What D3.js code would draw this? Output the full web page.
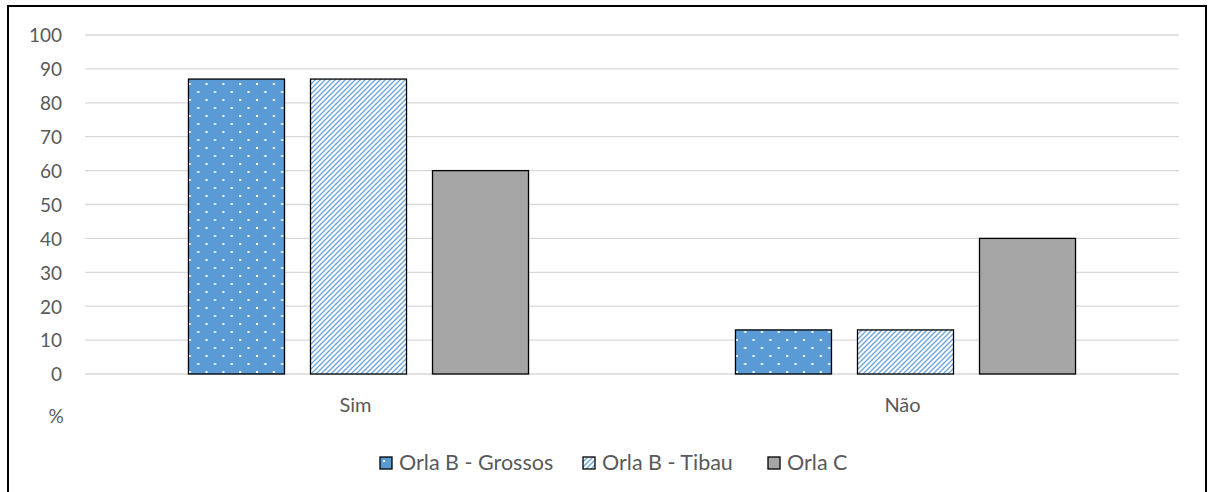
<!DOCTYPE html>
<html lang="pt">
<head>
    <meta charset="utf-8"/>
    <title>Sim / Não</title>
    <script src="https://d3js.org/d3.v7.min.js"></script>
    <style>
        body { margin: 0; background: #fff; }
        svg { display: block; }
        text { font-family: Lato, "Liberation Sans", sans-serif; fill: #595959; }
    </style>
</head>
<body>
<svg id="chart" width="1208" height="492"></svg>
<script>
    // datos
    const categorias = ["Sim", "Não"];
    const series = ["Orla B - Grossos", "Orla B - Tibau", "Orla C"];
    const grossos = [87, 13];
    const tibau = [87, 13];
    const orlaC = [60, 40];
    const ticksY = [0, 10, 20, 30, 40, 50, 60, 70, 80, 90, 100];

    const valores = [grossos, tibau, orlaC];

    const svg = d3.select("#chart");

    // patrones de relleno
    const defs = svg.append("defs");

    const dots = defs.append("pattern")
        .attr("id", "puntos")
        .attr("patternUnits", "userSpaceOnUse")
        .attr("width", 16.8).attr("height", 16);
    dots.append("rect").attr("width", 16.8).attr("height", 16).attr("fill", "#5B9BD5");
    dots.append("rect").attr("x", 3).attr("y", 3).attr("width", 2).attr("height", 2).attr("fill", "#fff");
    dots.append("rect").attr("x", 11.4).attr("y", 11).attr("width", 2).attr("height", 2).attr("fill", "#fff");

    const diag = defs.append("pattern")
        .attr("id", "diagonal")
        .attr("patternUnits", "userSpaceOnUse")
        .attr("width", 5).attr("height", 5);
    diag.append("rect").attr("width", 5).attr("height", 5).attr("fill", "#fff");
    diag.append("path")
        .attr("d", "M-1,1 L1,-1 M0,5 L5,0 M4,6 L6,4")
        .attr("stroke", "#6FA6DA")
        .attr("stroke-width", 1.4);

    const rellenos = ["url(#puntos)", "url(#diagonal)", "#A5A5A5"];

    // marco exterior
    svg.append("path")
        .attr("d", "M8,492 L8,6 L1206,6 L1206,492")
        .attr("fill", "none")
        .attr("stroke", "#000")
        .attr("stroke-width", 2);

    // escalas
    const y = d3.scaleLinear().domain([0, 100]).range([374, 35]);

    const x0 = d3.scaleBand()
        .domain(categorias)
        .range([85, 1179]);

    const x1 = d3.scaleBand()
        .domain(series)
        .range([0, x0.bandwidth()])
        .paddingInner(0.213)
        .paddingOuter(0.848);

    // grilla
    svg.append("g").selectAll("line")
        .data(ticksY).enter()
        .append("line")
        .attr("x1", 85).attr("x2", 1179)
        .attr("y1", d => y(d)).attr("y2", d => y(d))
        .attr("stroke", "#D9D9D9")
        .attr("stroke-width", 1.3);

    // eje y
    const ejeY = d3.axisLeft(y).tickValues(ticksY).tickSize(0).tickPadding(0);
    const gY = svg.append("g")
        .attr("transform", "translate(62,0)")
        .call(ejeY);
    gY.select(".domain").remove();
    gY.selectAll("text")
        .attr("dy", "0.36em")
        .style("font-size", "19px")
        .style("font-family", "Lato, \"Liberation Sans\", sans-serif")
        .style("fill", "#595959");

    svg.append("text")
        .attr("x", 56).attr("y", 423)
        .attr("text-anchor", "middle")
        .style("font-size", "19px")
        .text("%");

    // barras
    const grupos = svg.append("g").selectAll("g")
        .data(categorias).enter()
        .append("g")
        .attr("transform", d => "translate(" + x0(d) + ",0)");

    grupos.selectAll("rect")
        .data((d, i) => series.map((s, j) => ({serie: s, valor: valores[j][i], j: j})))
        .enter()
        .append("rect")
        .attr("x", d => x1(d.serie))
        .attr("width", x1.bandwidth())
        .attr("y", d => y(d.valor))
        .attr("height", d => y(0) - y(d.valor))
        .attr("fill", d => rellenos[d.j])
        .attr("stroke", "#000")
        .attr("stroke-width", 1.3);

    // eje x
    const ejeX = d3.axisBottom(x0).tickSize(0).tickPadding(0);
    const gX = svg.append("g")
        .attr("transform", "translate(-3,398)")
        .call(ejeX);
    gX.select(".domain").remove();
    gX.selectAll("text")
        .attr("dy", "0.71em")
        .style("font-size", "20px")
        .style("font-family", "Lato, \"Liberation Sans\", sans-serif")
        .style("fill", "#595959");

    // leyenda
    const posLeyenda = [380, 583, 768];
    const leyenda = svg.append("g").selectAll("g")
        .data(series).enter()
        .append("g")
        .attr("transform", (d, i) => "translate(" + posLeyenda[i] + ",457)");

    leyenda.append("rect")
        .attr("width", 12).attr("height", 12)
        .attr("fill", (d, i) => rellenos[i])
        .attr("stroke", "#000")
        .attr("stroke-width", 1.3);

    leyenda.append("text")
        .attr("x", 19).attr("y", 13)
        .style("font-size", "21.5px")
        .text(d => d);
</script>
</body>
</html>
